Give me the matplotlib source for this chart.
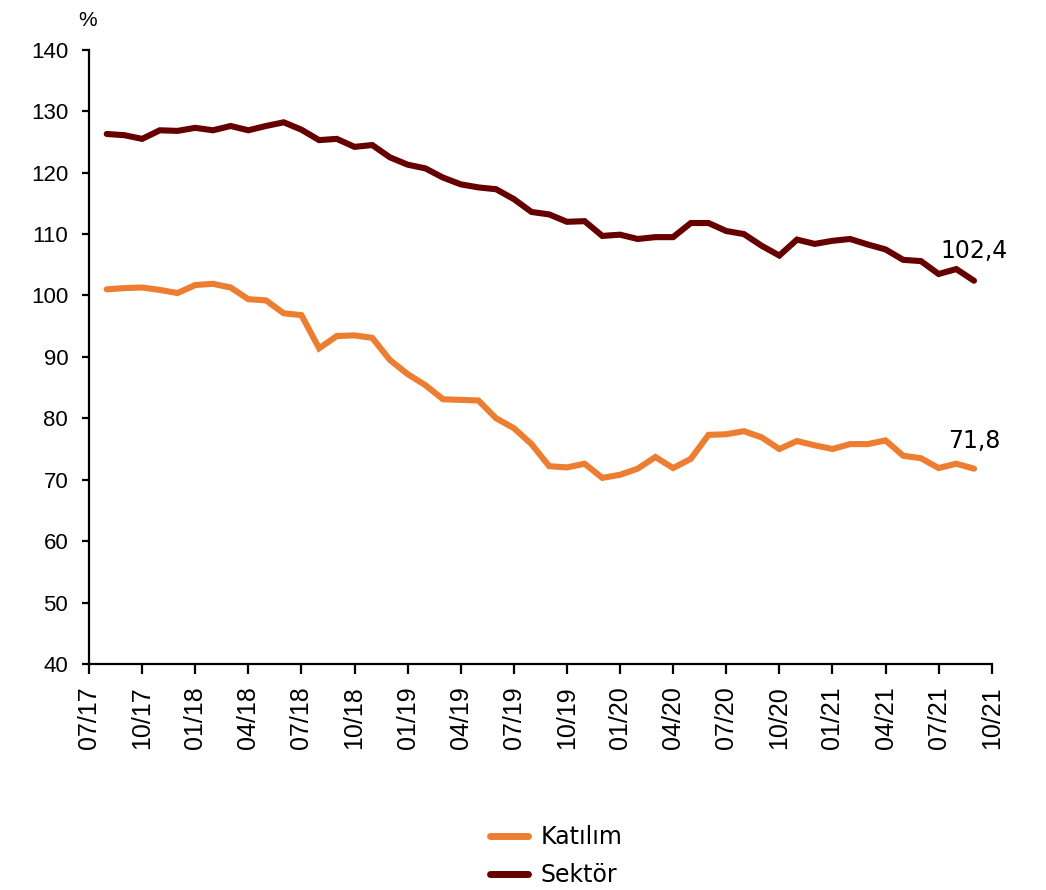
import matplotlib
matplotlib.use("Agg")
import matplotlib.pyplot as plt

plt.rcParams["font.family"] = ["Liberation Sans", "DejaVu Sans"]

# monthly data, 08/17 .. 09/21
katilim = [101.0, 101.2, 101.3, 100.9, 100.4, 101.7, 101.9, 101.3, 99.4, 99.2,
           97.1, 96.8, 91.4, 93.4, 93.5, 93.1, 89.5, 87.2, 85.4, 83.1,
           83.0, 82.9, 80.0, 78.4, 75.8, 72.2, 72.0, 72.6, 70.3, 70.8,
           71.8, 73.7, 71.9, 73.4, 77.3, 77.4, 77.9, 76.9, 75.0, 76.3,
           75.6, 75.0, 75.8, 75.8, 76.4, 73.9, 73.5, 71.9, 72.6, 71.8]
sektor = [126.3, 126.1, 125.5, 126.9, 126.8, 127.3, 126.9, 127.6, 126.9, 127.6,
          128.2, 127.0, 125.3, 125.5, 124.2, 124.5, 122.5, 121.3, 120.7, 119.2,
          118.1, 117.6, 117.3, 115.7, 113.6, 113.2, 112.0, 112.1, 109.7, 109.9,
          109.2, 109.5, 109.5, 111.8, 111.8, 110.5, 110.0, 108.1, 106.5, 109.1,
          108.4, 108.9, 109.2, 108.3, 107.5, 105.8, 105.6, 103.5, 104.3, 102.4]
tick_labels = ["07/17", "10/17", "01/18", "04/18", "07/18", "10/18", "01/19",
               "04/19", "07/19", "10/19", "01/20", "04/20", "07/20", "10/20",
               "01/21", "04/21", "07/21", "10/21"]
series_names = ["Katılım", "Sektör"]

orange = "#ED7D31"
maroon = "#660000"

x = list(range(1, len(katilim) + 1))

fig = plt.figure(figsize=(10.46, 8.9), dpi=100)
ax = fig.add_axes([0.0851, 0.254, 0.863, 0.69])

ax.plot(x, katilim, color=orange, lw=4.4, solid_capstyle="round",
        solid_joinstyle="miter", label=series_names[0])
ax.plot(x, sektor, color=maroon, lw=4.4, solid_capstyle="round",
        solid_joinstyle="miter", label=series_names[1])

ax.set_xlim(0, 51)
ax.set_ylim(40, 140)
ax.set_yticks(range(40, 141, 10))
ax.set_xticks(range(0, 52, 3))
ax.set_xticklabels(tick_labels, rotation=90)

ax.spines["top"].set_visible(False)
ax.spines["right"].set_visible(False)
ax.spines["left"].set_linewidth(1.6)
ax.spines["bottom"].set_linewidth(1.6)
ax.tick_params(axis="y", direction="out", length=5, width=1.6, pad=10,
               labelsize=16)
ax.tick_params(axis="x", direction="out", length=7, width=1.6, pad=9,
               labelsize=18)

# end-point labels
ax.annotate("102,4", (x[-1], sektor[-1]), xytext=(0, 13),
            textcoords="offset points", ha="center", va="bottom",
            fontsize=17, family="DejaVu Sans")
ax.annotate("71,8", (x[-1], katilim[-1]), xytext=(0, 11),
            textcoords="offset points", ha="center", va="bottom",
            fontsize=17, family="DejaVu Sans")

fig.text(0.084, 0.988, "%", fontsize=15, ha="center", va="top")

leg = fig.legend(loc="center", bbox_to_anchor=(0.532, 0.038), frameon=False,
                 handlelength=1.6, handletextpad=0.55, labelspacing=0.6,
                 prop={"family": "DejaVu Sans", "size": 17})
for h in leg.legend_handles:
    h.set_linewidth(5)

fig.savefig("out.png", dpi=100)
